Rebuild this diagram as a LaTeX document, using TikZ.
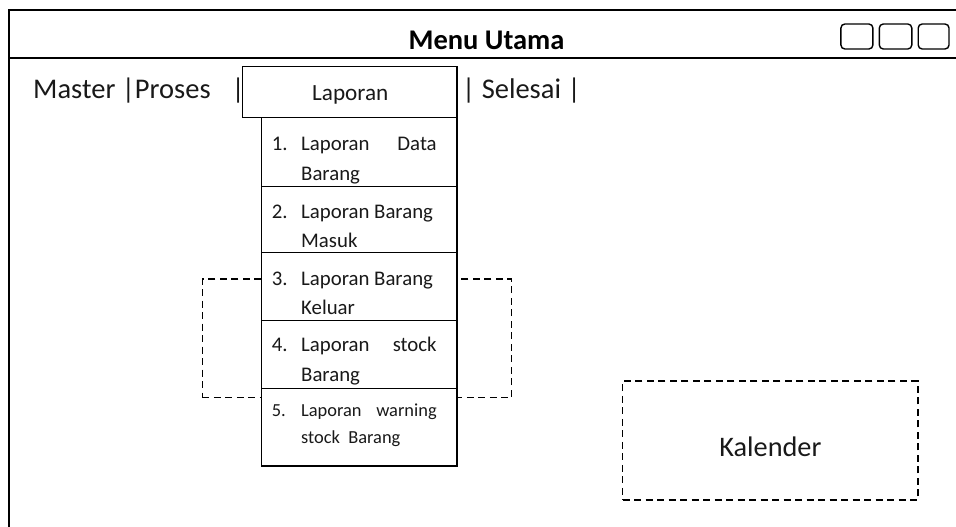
\documentclass[tikz,border=0pt]{standalone}
\usepackage{fontspec}
\setmainfont{Carlito}
\begin{document}
\begin{tikzpicture}[x=1pt,y=-1pt,
  frameline/.style={line width=1.6pt},
  box/.style={draw, line width=1.5pt, fill=white, inner sep=0pt, outer sep=0pt, anchor=north west},
  dashbox/.style={draw, line width=1.4pt, dash pattern=on 7pt off 4.5pt, inner sep=0pt, outer sep=0pt, anchor=north west},
  btn/.style={draw, line width=1.4pt, rounded corners=4pt, inner sep=0pt, outer sep=0pt, anchor=north west, minimum height=25pt},
  big/.style={font=\fontsize{28.5}{34}\selectfont, inner sep=0pt, anchor=base west, text=black!90},
  mid/.style={font=\fontsize{23.2}{28}\selectfont, inner sep=0pt, anchor=base, text=black!90},
  itm/.style={font=\fontsize{20.8}{25}\selectfont, inner sep=0pt, anchor=base west, text=black!90},
  itms/.style={font=\fontsize{18.4}{22}\selectfont, inner sep=0pt, anchor=base west, text=black!90},
]
\useasboundingbox (0,0) rectangle (956,527);

% window frame and title bar
\draw[frameline] (956,10) -- (9,10) -- (9,527);
\draw[frameline] (9,58) -- (956,58);
\node[inner sep=0pt, anchor=base, font=\fontsize{28.5}{34}\selectfont\bfseries] (title) at (486.5,49.3) {Menu Utama};

% window buttons
\node[btn, minimum width=32pt] (b1) at (840.9,24) {};
\node[btn, minimum width=32.5pt] (b2) at (879.3,24) {};
\node[btn, minimum width=30.8pt] (b3) at (918.2,24) {};

% menu bar
\node[big] (mproses) at (33,98.3) {Master |Proses};
\node[big] (msep) at (231.5,98.3) {|};
\node[big] (mselesai) at (462,98.3) {| Selesai |};

% frame around the middle entries
\node[dashbox, minimum width=309.4pt, minimum height=118.7pt] (group) at (202.3,279) {};

% the open Laporan menu
\node[box, minimum width=214.3pt, minimum height=51pt] (lap) at (242.7,66.7) {};
\node[mid] (laptxt) at (350.3,100) {Laporan};

\node[box, minimum width=195.3pt, minimum height=69pt] (i1) at (261.7,117.7) {};
\node[box, minimum width=195.3pt, minimum height=66pt] (i2) at (261.7,186.7) {};
\node[box, minimum width=195.3pt, minimum height=68pt] (i3) at (261.7,252.7) {};
\node[box, minimum width=195.3pt, minimum height=67.6pt] (i4) at (261.7,320.7) {};
\node[box, minimum width=195.3pt, minimum height=77.7pt] (i5) at (261.7,388.3) {};

\node[itm] (n1) at (271.7,150) {1.};
\node[itm] (t1a) at (301,150) {\hbox to 135.5pt{Laporan\hfill Data}};
\node[itm] (t1b) at (301,180) {Barang};

\node[itm] (n2) at (271.7,218.3) {2.};
\node[itm] (t2a) at (301,218.3) {Laporan Barang};
\node[itm] (t2b) at (301,247.7) {Masuk};

\node[itm] (n3) at (271.7,285) {3.};
\node[itm] (t3a) at (301,285) {Laporan Barang};
\node[itm] (t3b) at (301,314) {Keluar};

\node[itm] (n4) at (271.7,351.7) {4.};
\node[itm] (t4a) at (301,351.7) {\hbox to 135.5pt{Laporan\hfill stock}};
\node[itm] (t4b) at (301,381) {Barang};

\node[itms] (n5) at (271.7,416.7) {5.};
\node[itms] (t5a) at (301,416.7) {\hbox to 135.5pt{Laporan\hfill warning}};
\node[itms] (t5b) at (301,443.3) {stock~ Barang};

% calendar placeholder
\node[dashbox, minimum width=295.3pt, minimum height=119pt] (kal) at (622.7,381) {};
\node[inner sep=0pt, anchor=base, font=\fontsize{28.3}{34}\selectfont, text=black!90] (kaltxt) at (770.4,456) {Kalender};
\end{tikzpicture}
\end{document}
